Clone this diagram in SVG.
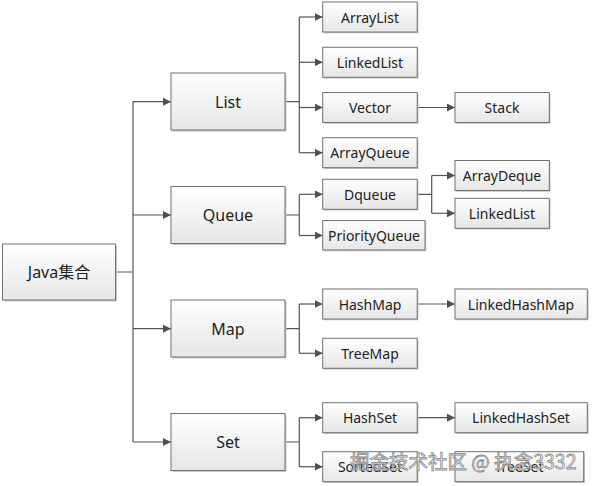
<svg xmlns="http://www.w3.org/2000/svg" width="592" height="486" viewBox="0 0 592 486">
<defs>
<linearGradient id="g" x1="0" y1="0" x2="0" y2="1">
<stop offset="0" stop-color="#ffffff"/>
<stop offset="1" stop-color="#e6e6e6"/>
</linearGradient>
<marker id="arr" viewBox="0 0 10 10" refX="10" refY="5" markerWidth="8" markerHeight="8" markerUnits="userSpaceOnUse" orient="auto">
<path d="M0,0 L10,5 L0,10 z" fill="#505050"/>
</marker>
</defs>
<style>
.box{fill:url(#g);stroke:#707070;stroke-width:1}
.sh{fill:#c8c8c8}
.t{font-family:"Noto Sans","Noto Sans CJK SC",sans-serif;font-size:14px;fill:#222;text-anchor:middle;dominant-baseline:central}
.m{font-size:16px}
.c{fill:none;stroke:#555;stroke-width:1.2}
.a{marker-end:url(#arr)}
.wm{font-family:"Noto Sans CJK SC",sans-serif;font-size:19.5px;fill:#ffffff;fill-opacity:0.75;stroke:#8a8a8a;stroke-width:0.8}
</style>
<rect width="592" height="486" fill="#ffffff"/>
<g id="connectors">
<path class="c" d="M115.5 272 H133 M133 101.7 V442"/>
<path class="c a" d="M133 101.7 H171"/>
<path class="c a" d="M133 215 H171"/>
<path class="c a" d="M133 328.7 H171"/>
<path class="c a" d="M133 442 H171"/>
<path class="c" d="M285 101.7 H299.3 M299.3 17 V152.7"/>
<path class="c a" d="M299.3 17 H322.7"/>
<path class="c a" d="M299.3 62.3 H322.7"/>
<path class="c a" d="M299.3 107.5 H322.7"/>
<path class="c a" d="M299.3 152.7 H322.7"/>
<path class="c a" d="M417.3 107.5 H455"/>
<path class="c" d="M285 215 H299.3 M299.3 194.3 V235.5"/>
<path class="c a" d="M299.3 194.3 H322.7"/>
<path class="c a" d="M299.3 235.5 H322.7"/>
<path class="c" d="M417.3 194.3 H431.7 M431.7 175.5 V213.3"/>
<path class="c a" d="M431.7 175.5 H455"/>
<path class="c a" d="M431.7 213.3 H455"/>
<path class="c" d="M285 328.7 H299.3 M299.3 304 V353.3"/>
<path class="c a" d="M299.3 304 H322.7"/>
<path class="c a" d="M299.3 353.3 H322.7"/>
<path class="c a" d="M417.3 304 H455"/>
<path class="c" d="M285 442 H299.3 M299.3 417.7 V466.7"/>
<path class="c a" d="M299.3 417.7 H322.7"/>
<path class="c a" d="M299.3 466.7 H322.7"/>
<path class="c a" d="M417.3 417.7 H455"/>
</g>
<g id="java"><rect class="sh" x="4" y="245.5" width="113" height="56"/><rect class="box" x="2.5" y="244" width="113" height="56"/><text class="t m" x="59" y="272">Java集合</text></g>
<g id="list"><rect class="sh" x="172.5" y="74.5" width="114" height="57"/><rect class="box" x="171" y="73" width="114" height="57"/><text class="t m" x="228" y="101.5">List</text></g>
<g id="queue"><rect class="sh" x="172.5" y="188" width="114" height="57"/><rect class="box" x="171" y="186.5" width="114" height="57"/><text class="t m" x="228" y="215">Queue</text></g>
<g id="map"><rect class="sh" x="172.5" y="301.5" width="114" height="57"/><rect class="box" x="171" y="300" width="114" height="57"/><text class="t m" x="228" y="328.5">Map</text></g>
<g id="set"><rect class="sh" x="172.5" y="415" width="114" height="57"/><rect class="box" x="171" y="413.5" width="114" height="57"/><text class="t m" x="228" y="442">Set</text></g>
<g id="arraylist"><rect class="sh" x="324" y="3.3" width="94.5" height="30"/><rect class="box" x="322.7" y="2" width="94.5" height="30"/><text class="t" x="370" y="17">ArrayList</text></g>
<g id="linkedlist"><rect class="sh" x="324" y="48.6" width="94.5" height="30"/><rect class="box" x="322.7" y="47.3" width="94.5" height="30"/><text class="t" x="370" y="62.3">LinkedList</text></g>
<g id="vector"><rect class="sh" x="324" y="93.8" width="94.5" height="30"/><rect class="box" x="322.7" y="92.5" width="94.5" height="30"/><text class="t" x="370" y="107.5">Vector</text></g>
<g id="arrayqueue"><rect class="sh" x="324" y="139" width="94.5" height="30"/><rect class="box" x="322.7" y="137.7" width="94.5" height="30"/><text class="t" x="370" y="152.7">ArrayQueue</text></g>
<g id="dqueue"><rect class="sh" x="324" y="180.6" width="94.5" height="30"/><rect class="box" x="322.7" y="179.3" width="94.5" height="30"/><text class="t" x="370" y="194.3">Dqueue</text></g>
<g id="priorityqueue"><rect class="sh" x="324" y="221.8" width="102.3" height="29.5"/><rect class="box" x="322.7" y="220.5" width="102.3" height="29.5"/><text class="t" x="374" y="235.5">PriorityQueue</text></g>
<g id="hashmap"><rect class="sh" x="324" y="290.3" width="94.5" height="30"/><rect class="box" x="322.7" y="289" width="94.5" height="30"/><text class="t" x="370" y="304">HashMap</text></g>
<g id="treemap"><rect class="sh" x="324" y="339.6" width="94.5" height="30"/><rect class="box" x="322.7" y="338.3" width="94.5" height="30"/><text class="t" x="370" y="353.3">TreeMap</text></g>
<g id="hashset"><rect class="sh" x="324" y="404" width="94.5" height="30"/><rect class="box" x="322.7" y="402.7" width="94.5" height="30"/><text class="t" x="370" y="417.7">HashSet</text></g>
<g id="sortedset"><rect class="sh" x="324" y="453" width="94.5" height="30"/><rect class="box" x="322.7" y="451.7" width="94.5" height="30"/><text class="t" x="370" y="466.7">SortedSet</text></g>
<g id="stack"><rect class="sh" x="456.3" y="93.8" width="94.3" height="30"/><rect class="box" x="455" y="92.5" width="94.3" height="30"/><text class="t" x="502" y="107.5">Stack</text></g>
<g id="arraydeque"><rect class="sh" x="456.3" y="161.8" width="94.3" height="30"/><rect class="box" x="455" y="160.5" width="94.3" height="30"/><text class="t" x="502" y="175.5">ArrayDeque</text></g>
<g id="linkedlist2"><rect class="sh" x="456.3" y="199.6" width="94.3" height="30"/><rect class="box" x="455" y="198.3" width="94.3" height="30"/><text class="t" x="502" y="213.3">LinkedList</text></g>
<g id="linkedhashmap"><rect class="sh" x="456.3" y="290.3" width="132.3" height="30"/><rect class="box" x="455" y="289" width="132.3" height="30"/><text class="t" x="521" y="304">LinkedHashMap</text></g>
<g id="linkedhashset"><rect class="sh" x="456.3" y="404" width="132.3" height="30"/><rect class="box" x="455" y="402.7" width="132.3" height="30"/><text class="t" x="521" y="417.7">LinkedHashSet</text></g>
<g id="treeset"><rect class="sh" x="456.3" y="453" width="128.7" height="30"/><rect class="box" x="455" y="451.7" width="128.7" height="30"/><text class="t" x="519" y="466.7">TreeSet</text></g>
<text class="wm" x="350" y="469">掘金技术社区 @ 执念3332</text>
</svg>
